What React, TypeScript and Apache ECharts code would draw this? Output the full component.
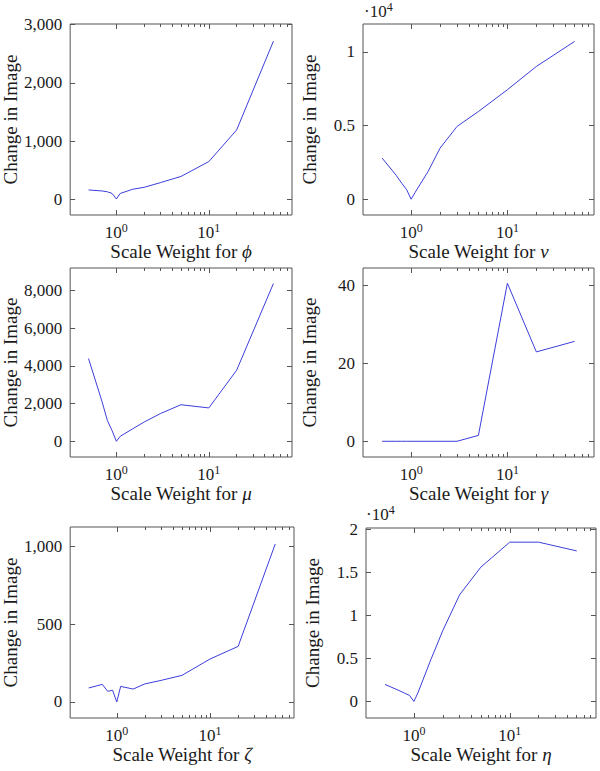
import React, { useEffect, useRef } from 'react';
import * as echarts from 'echarts';

// Scale weights (x values, log axis)
const weights = [0.5, 0.7, 0.8, 0.9, 1, 1.1, 1.5, 2, 3, 5, 10, 20, 50];

// Change in image for each scaled parameter
const phiValues = [160, 143, 128, 100, 5, 100, 172, 206, 286, 392, 647, 1190, 2715];
const nuValues = [2790, 1620, 1080, 640, 0, 460, 1880, 3470, 4940, 5950, 7430, 9010, 10710];
const muValues = [4390, 2100, 1100, 560, 0, 265, 660, 1024, 1470, 1940, 1770, 3770, 8370];
const gammaValues = [0, 0, 0, 0, 0, 0, 0, 0, 0, 1.5, 40.5, 22.9, 25.6];
const zetaValues = [90, 113, 68, 76, 0, 100, 83, 116, 139, 171, 276, 357, 1015];
const etaValues = [1980, 1270, 960, 700, 0, 990, 4850, 8240, 12430, 15650, 18550, 18550, 17530];

// Tick values
const xMajorTicks = [1, 10];
const xMinorTicks = [2, 3, 4, 5, 6, 7, 8, 9, 20, 30, 40, 50, 60, 70];
const phiTicks = [0, 1000, 2000, 3000];
const nuTicks = [0, 5000, 10000];
const muTicks = [0, 2000, 4000, 6000, 8000];
const gammaTicks = [0, 20, 40];
const zetaTicks = [0, 500, 1000];
const etaTicks = [0, 5000, 10000, 15000, 20000];

const symbols = ['ϕ', 'ν', 'μ', 'γ', 'ζ', 'η'];

const FONT = "'Liberation Serif', 'DejaVu Serif', serif";
const TXT = '#1a1a1a';
const AX = '#555';
const LINE = '#3d3ddb';
const XMIN = Math.pow(10, -0.5);
const XMAX = Math.pow(10, 1.9);
const TICK_FS = 17;
const NAME_FS = 19;

const comma = (v: number) => Math.round(v).toLocaleString('en-US');
const per1e4 = (v: number) => String(v / 10000);

const panels = [
  { y: phiValues, ticks: phiTicks, ymin: -270, ymax: 3010, fmt: comma, grid: { left: 61, top: 24, width: 231, height: 191 } },
  { y: nuValues, ticks: nuTicks, ymin: -1070, ymax: 11890, fmt: per1e4, grid: { left: 363, top: 24, width: 231, height: 191 } },
  { y: muValues, ticks: muTicks, ymin: -833, ymax: 9194, fmt: comma, grid: { left: 61, top: 268, width: 231, height: 189 } },
  { y: gammaValues, ticks: gammaTicks, ymin: -4.03, ymax: 44.4, fmt: comma, grid: { left: 363, top: 268, width: 231, height: 189 } },
  { y: zetaValues, ticks: zetaTicks, ymin: -103, ymax: 1124, fmt: comma, grid: { left: 63, top: 527, width: 231, height: 191 } },
  { y: etaValues, ticks: etaTicks, ymin: -1930, ymax: 20200, fmt: per1e4, grid: { left: 366, top: 528, width: 230, height: 190 } },
];

const supRich = {
  s: { fontSize: 12, fontFamily: FONT, color: TXT, fill: TXT, verticalAlign: 'bottom', padding: [0, 0, 8, 0] },
};

function buildOption() {
  const grid: any[] = [];
  const xAxis: any[] = [];
  const yAxis: any[] = [];
  const series: any[] = [];
  panels.forEach((p, i) => {
    grid.push({ ...p.grid, show: true, borderColor: AX, borderWidth: 1, backgroundColor: 'transparent' });
    const baseX = {
      type: 'log', logBase: 10, gridIndex: i, min: XMIN, max: XMAX,
      axisLine: { show: false, onZero: false }, splitLine: { show: false },
      minorTick: { show: false }, minorSplitLine: { show: false },
    };
    const tick = (vals: number[], len: number) => ({ show: true, inside: true, length: len, customValues: vals, lineStyle: { color: AX, width: 1 } });
    xAxis.push({
      ...baseX, position: 'bottom',
      axisTick: tick(xMajorTicks, 5),
      axisLabel: {
        customValues: xMajorTicks, margin: 7, fontFamily: FONT, fontSize: TICK_FS, color: TXT,
        formatter: (v: number) => `10{s|${Math.round(Math.log10(v))}}`, rich: supRich,
      },
      name: `Scale Weight for {i|${symbols[i]}}`, nameLocation: 'middle', nameGap: 27,
      nameTextStyle: { fontFamily: FONT, fontSize: NAME_FS, color: TXT, rich: { i: { fontFamily: FONT, fontSize: NAME_FS, fontStyle: 'italic', color: TXT } } },
    });
    xAxis.push({ ...baseX, position: 'bottom', axisTick: tick(xMinorTicks, 3), axisLabel: { show: false } });
    xAxis.push({ ...baseX, position: 'top', axisTick: tick(xMajorTicks, 5), axisLabel: { show: false } });
    xAxis.push({ ...baseX, position: 'top', axisTick: tick(xMinorTicks, 3), axisLabel: { show: false } });
    const baseY = {
      type: 'value', gridIndex: i, min: p.ymin, max: p.ymax,
      axisLine: { show: false, onZero: false }, splitLine: { show: false },
    };
    yAxis.push({
      ...baseY, position: 'left',
      axisTick: tick(p.ticks, 5),
      axisLabel: { customValues: p.ticks, margin: 8, fontFamily: FONT, fontSize: TICK_FS, color: TXT, formatter: p.fmt },
      name: 'Change in Image', nameLocation: 'middle', nameGap: 44,
      nameTextStyle: { fontFamily: FONT, fontSize: NAME_FS, color: TXT },
    });
    yAxis.push({ ...baseY, position: 'right', axisTick: tick(p.ticks, 5), axisLabel: { show: false } });
    series.push({
      type: 'line', xAxisIndex: i * 4, yAxisIndex: i * 2, symbol: 'none', silent: true,
      data: weights.map((w, j) => [w, p.y[j]]),
      lineStyle: { color: LINE, width: 1 },
    });
  });
  const expLabel = (left: number, top: number) => ({
    type: 'text', left, top,
    style: { text: '·10{s|4}', fontFamily: FONT, fontSize: TICK_FS, fill: TXT, rich: { s: { fontSize: 12, fontFamily: FONT, fill: TXT, verticalAlign: 'bottom', padding: [0, 0, 8, 0] } } },
  });
  return {
    animation: false,
    backgroundColor: '#fff',
    grid, xAxis, yAxis, series,
    graphic: [expLabel(364, 1), expLabel(366, 504)],
  };
}

export default function App() {
  const ref = useRef<HTMLDivElement>(null);
  useEffect(() => {
    if (!ref.current) return;
    const chart = echarts.init(ref.current, undefined, { renderer: 'svg' });
    chart.setOption(buildOption() as any);
    return () => chart.dispose();
  }, []);
  return <div ref={ref} style={{ position: 'absolute', left: 0, top: 0, width: 600, height: 771 }} />;
}
